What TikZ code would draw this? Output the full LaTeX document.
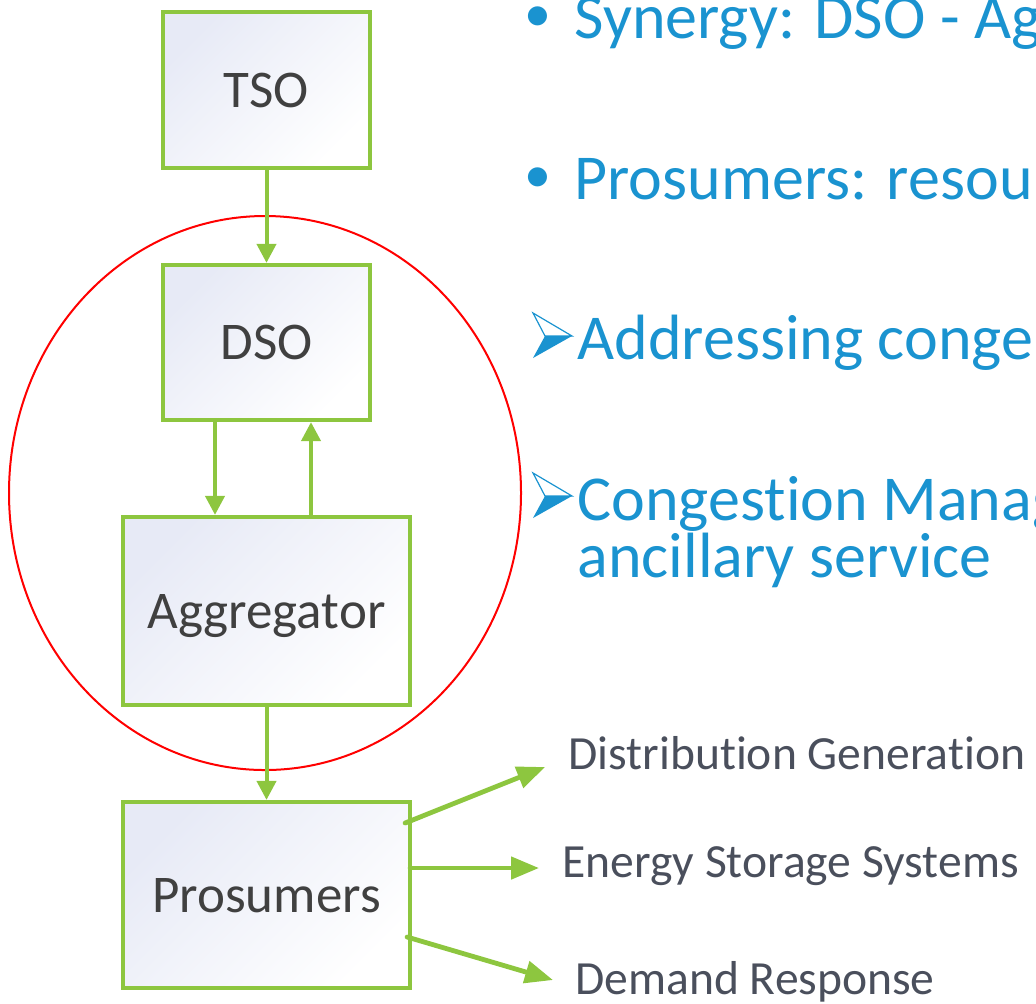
\documentclass[tikz,border=0pt]{standalone}
\usepackage{fontspec}
\setmainfont[Ligatures=NoCommon]{Carlito}
\usetikzlibrary{arrows.meta}
\definecolor{lgreen}{RGB}{141,198,63}
\definecolor{lav}{RGB}{231,234,246}
\definecolor{bluetxt}{RGB}{26,147,208}
\definecolor{graytxt}{RGB}{74,79,92}
\definecolor{boxtxt}{RGB}{64,64,64}
\begin{document}
\begin{tikzpicture}[x=0.5pt,y=-0.5pt,
  box/.style={draw=lgreen, line width=2.1pt, top color=lav, bottom color=white, shading angle=45,
    font=\fontsize{26.5}{30}\selectfont, text=boxtxt, text height=17pt, text depth=0pt, inner sep=0pt},
  arr/.style={draw=lgreen, line width=2pt, -{Triangle[length=9.5pt,width=9.5pt]}},
  bigarr/.style={draw=lgreen, line width=2.4pt, line cap=round, -{Triangle[length=14pt,width=11pt]}},
  bt/.style={text=bluetxt, font=\fontsize{32}{26.5}\selectfont, inner sep=0pt, anchor=base west},
  dot/.style={text=bluetxt, font=\fontsize{27}{27}\selectfont, inner sep=0pt, anchor=center},
  gt/.style={text=graytxt, font=\fontsize{23.8}{26}\selectfont, inner sep=0pt, anchor=base west},
  bulletarrow/.style={bluetxt}]
\useasboundingbox (0,0) rectangle (1036,1003);
\clip (0,0) rectangle (1036,1003);
% highlight ellipse
\draw[red, line width=1pt] (265,493) ellipse [x radius=128pt, y radius=138.5pt];
% boxes
\node[box, minimum width=103.5pt, minimum height=78pt] (tso) at (266.5,90) {TSO};
\node[box, minimum width=103.5pt, minimum height=77.5pt] (dso) at (266.5,342.5) {DSO};
\node[box, minimum width=143.5pt, minimum height=94pt] (agg) at (266.5,611) {Aggregator};
\node[box, minimum width=143.5pt, minimum height=93pt] (pro) at (266.5,895) {Prosumers};
% vertical connectors
\draw[arr] (tso.south) -- (dso.north);
\draw[arr] ([xshift=-25.75pt]dso.south) -- ([xshift=-25.75pt]agg.north);
\draw[arr] ([xshift=22.25pt]agg.north) -- ([xshift=22.25pt]dso.south);
\draw[arr] (agg.south) -- (pro.north);
% outgoing arrows
\coordinate (t1) at (545,767);
\coordinate (t2) at (539,868);
\coordinate (t3) at (553,980);
\draw[bigarr] ([xshift=-3.5pt,yshift=36pt]pro.east) -- (t1);
\draw[bigarr] ([xshift=-1pt,yshift=13.5pt]pro.east) -- (t2);
\draw[bigarr] ([xshift=-2.5pt,yshift=-21pt]pro.east) -- (t3);
% labels
\node[gt] (l1) at (568,769) {Distribution Generation};
\node[gt] (l2) at (562,877) {Energy Storage Systems};
\node[gt] (l3) at (575,994) {Demand Response};
% bullets text
\node[dot] (d1) at (538,19) {•};
\node[bt] (b1) at (574,38) {Synergy: DSO - Ag};
\node[dot] (d2) at (538,180) {•};
\node[bt] (b2) at (574,199) {Prosumers: resour};
% arrow bullets
\foreach \dy in {0,160}{
  \fill[bulletarrow] (545,336+\dy) -- (572,336+\dy) -- (533,358+\dy) -- cycle;
  \draw[bulletarrow, line width=0.6pt, line join=miter] (533,313+\dy) -- (572,336+\dy) -- (545,336+\dy) -- cycle;
}
\node[bt] (a1) at (577,359) {Addressing conge};
\node[bt] (a2) at (577,520) {\vtop{\hbox{Congestion Manag}\hbox{ancillary service}}};
\end{tikzpicture}
\end{document}
